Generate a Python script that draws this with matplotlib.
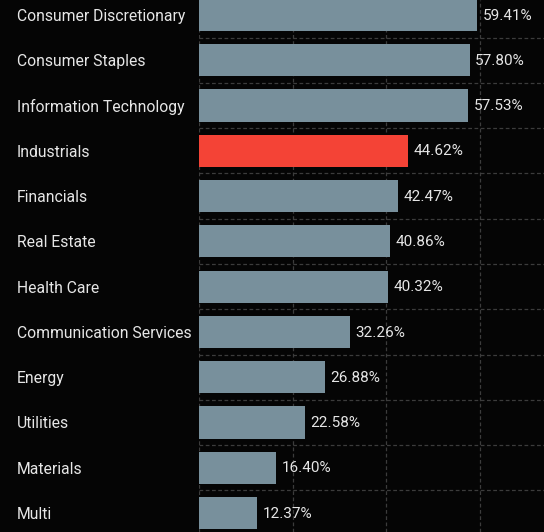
import matplotlib
matplotlib.use("Agg")
import matplotlib.pyplot as plt
from matplotlib.ticker import MultipleLocator, FixedLocator

categories = ["Consumer Discretionary", "Consumer Staples", "Information Technology",
              "Industrials", "Financials", "Real Estate", "Health Care",
              "Communication Services", "Energy", "Utilities", "Materials", "Multi"]
values = [59.41, 57.80, 57.53, 44.62, 42.47, 40.86, 40.32, 32.26, 26.88, 22.58, 16.40, 12.37]
highlight = "Industrials"

BG = "#050505"
BAR = "#78909c"
RED = "#f44336"
TXT = "#e6e6e6"
GRID = "#3c3c3c"

W, H = 544, 532
fig = plt.figure(figsize=(W / 100, H / 100), dpi=100, facecolor=BG)
x0 = 199 / W
ax = fig.add_axes([x0, 0, 1 - x0, 1], facecolor=BG)

ypos = list(range(len(categories)))
colors = [RED if c == highlight else BAR for c in categories]
ax.barh(ypos, values, height=0.71, color=colors, zorder=2)

for y, v in zip(ypos, values):
    ax.annotate(f"{v:.2f}%", xy=(v, y), xytext=(4, -0.5), textcoords="offset points",
                va="center", ha="left", color=TXT, fontsize=11, family="Roboto")

ax.set_xlim(0, 73.67)
ax.set_ylim(11.42, -0.331)

ax.set_yticks(ypos)
ax.set_yticklabels(categories, color=TXT, fontsize=11.3, family="Roboto", ha="left")
ax.tick_params(axis="y", length=0, pad=(199 - 17) * 0.72)
ax.tick_params(axis="x", length=0, labelbottom=False)

ax.xaxis.set_major_locator(MultipleLocator(20))
ax.yaxis.set_minor_locator(FixedLocator([i + 0.5 for i in range(-1, len(categories))]))
ax.grid(axis="x", which="major", color=GRID, linestyle=(0, (3, 2)), linewidth=0.9, zorder=0)
ax.grid(axis="y", which="minor", color=GRID, linestyle=(0, (3, 2)), linewidth=0.9, zorder=0)
ax.tick_params(axis="y", which="minor", length=0)

for s in ax.spines.values():
    s.set_visible(False)

fig.savefig("out.png", dpi=100, facecolor=BG)
